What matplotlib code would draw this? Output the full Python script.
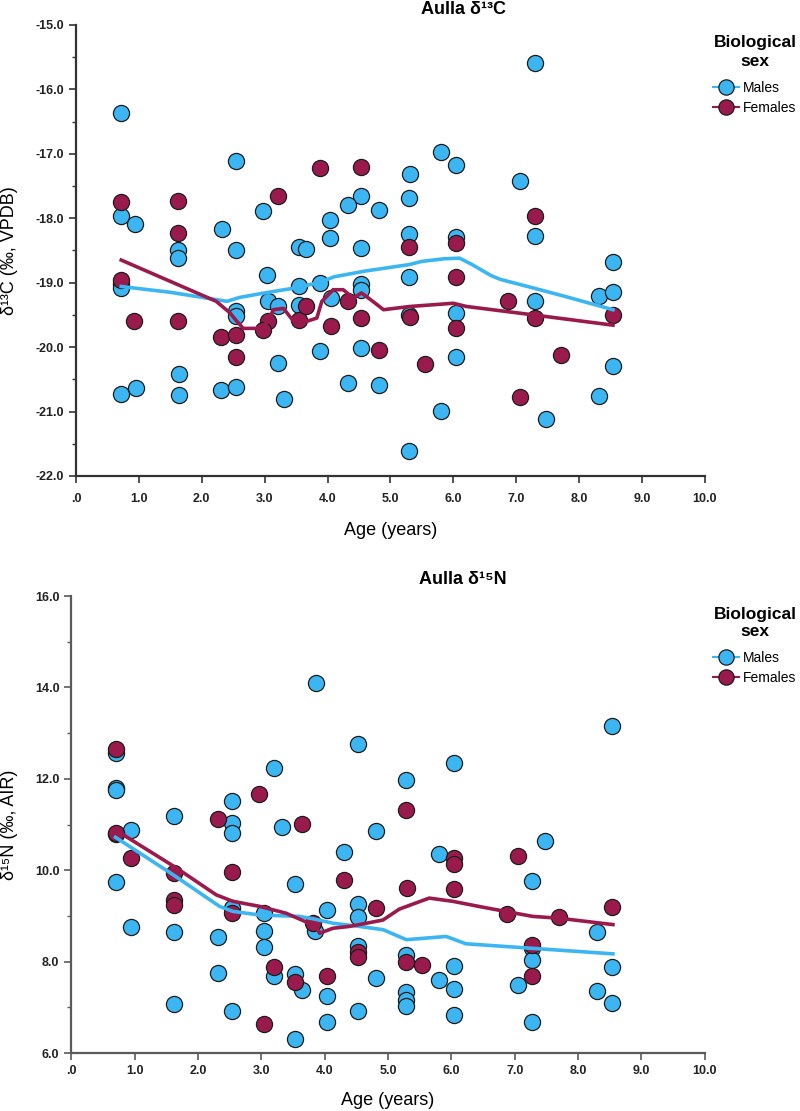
import matplotlib
matplotlib.use('Agg')
import matplotlib.pyplot as plt
from matplotlib.lines import Line2D

plt.rcParams['font.family'] = ['Liberation Sans', 'DejaVu Sans']

# ---- Aulla d13C ----
c_male_age = [0.72, 0.72, 0.94, 1.63, 1.63, 2.54, 2.98, 2.32, 2.54, 3.03,
              4.54, 4.32, 4.82, 4.04, 4.04, 3.55, 3.66, 4.54, 7.30, 5.31,
              5.81, 6.04, 7.06, 5.29, 7.30, 5.29, 6.04, 8.54, 5.29, 0.72,
              0.72, 0.72, 0.95, 1.64, 1.64, 2.31, 2.54, 2.54, 2.54, 3.05,
              3.22, 3.22, 3.31, 3.55, 3.55, 3.88, 3.88, 4.05, 4.32, 4.54,
              4.54, 4.54, 4.82, 8.32, 8.54, 7.30, 6.04, 5.29, 6.04, 8.54,
              8.32, 5.81, 7.48, 5.29]
c_male_val = [-16.37, -17.97, -18.09, -18.49, -18.61, -17.11, -17.89, -18.16, -18.50, -18.88,
              -17.66, -17.80, -17.87, -18.03, -18.31, -18.44, -18.48, -18.47, -15.59, -17.31,
              -16.98, -17.17, -17.43, -17.69, -18.27, -18.25, -18.29, -18.68, -18.92, -19.02,
              -19.08, -20.73, -20.63, -20.42, -20.74, -20.67, -20.62, -19.44, -19.52, -19.28,
              -19.37, -20.24, -20.80, -19.05, -19.34, -19.01, -20.06, -19.24, -20.56, -19.02,
              -19.12, -20.01, -20.59, -19.21, -19.14, -19.29, -19.47, -19.50, -20.15, -20.30,
              -20.76, -20.99, -21.12, -21.61]
c_female_age = [0.72, 1.63, 1.63, 3.21, 3.88, 4.54, 7.30, 6.04, 5.29, 6.04,
                0.72, 0.93, 1.63, 2.31, 2.54, 2.54, 3.05, 2.98, 3.55, 3.66,
                4.05, 4.32, 4.54, 4.82, 6.87, 5.31, 6.04, 7.30, 8.54, 5.55,
                7.71, 7.06]
c_female_val = [-17.75, -17.74, -18.23, -17.66, -17.22, -17.21, -17.97, -18.39, -18.45, -18.92,
                -18.96, -19.59, -19.59, -19.85, -19.81, -20.16, -19.59, -19.73, -19.58, -19.37,
                -19.68, -19.29, -19.55, -20.04, -19.28, -19.53, -19.70, -19.55, -19.50, -20.26,
                -20.12, -20.78]
c_male_fit_age = [0.72, 1.5, 2.4, 2.6, 3.0, 3.5, 3.9, 4.1, 4.6, 5.3, 5.5, 5.85, 6.1,
                  6.3, 6.6, 6.75, 7.3, 7.8, 8.54]
c_male_fit = [-19.06, -19.15, -19.29, -19.23, -19.16, -19.08, -18.99, -18.91, -18.82,
              -18.72, -18.67, -18.63, -18.62, -18.72, -18.89, -18.95, -19.09, -19.22, -19.42]
c_female_fit_age = [0.72, 2.23, 2.45, 2.54, 2.66, 2.87, 3.03, 3.14, 3.30, 3.46, 3.67,
                    3.83, 3.91, 4.09, 4.25, 4.41, 4.54, 4.72, 4.89, 5.31, 6.0, 6.21,
                    7.27, 8.54]
c_female_fit = [-18.65, -19.29, -19.47, -19.58, -19.71, -19.71, -19.63, -19.42, -19.40,
                -19.60, -19.60, -19.55, -19.29, -19.11, -19.11, -19.24, -19.16, -19.29,
                -19.42, -19.37, -19.32, -19.37, -19.50, -19.66]

# ---- Aulla d15N ----
n_male_age = [3.87, 4.53, 0.70, 0.70, 0.70, 3.20, 2.54, 1.62, 2.54, 3.32,
              4.81, 0.95, 8.54, 6.04, 5.29, 0.70, 2.54, 0.70, 0.95, 1.62,
              1.62, 2.31, 2.31, 2.54, 2.54, 3.04, 3.04, 3.04, 3.20, 3.54,
              3.54, 3.64, 3.54, 3.84, 4.04, 4.04, 4.04, 4.30, 4.53, 4.53,
              4.53, 4.53, 4.81, 5.80, 7.48, 7.28, 8.30, 7.28, 7.28, 7.28,
              5.29, 6.04, 5.81, 6.04, 5.29, 5.29, 5.29, 6.04, 7.05, 8.30,
              8.53, 8.53]
n_male_val = [14.10, 12.76, 12.57, 11.79, 11.76, 12.24, 11.52, 11.19, 11.03, 10.94,
              10.85, 10.88, 13.16, 12.34, 11.98, 10.80, 10.81, 9.74, 8.76, 8.65,
              7.08, 8.54, 7.76, 6.91, 9.17, 9.06, 8.67, 8.33, 7.69, 9.70,
              7.73, 7.38, 6.31, 8.66, 9.13, 7.24, 6.68, 10.39, 9.26, 8.97,
              8.35, 6.91, 7.64, 10.35, 10.63, 9.77, 8.65, 8.30, 8.03, 6.68,
              8.15, 7.91, 7.59, 7.40, 7.33, 7.17, 7.02, 6.84, 7.49, 7.35,
              7.89, 7.09]
n_female_age = [0.70, 2.97, 2.31, 3.64, 5.29, 0.70, 0.94, 1.62, 1.62, 1.62,
                2.54, 2.54, 3.04, 3.20, 3.54, 3.82, 4.04, 4.30, 4.53, 4.53,
                4.81, 6.04, 6.04, 7.05, 5.30, 6.04, 8.53, 6.88, 7.70, 7.28,
                7.28, 5.29, 5.54]
n_female_val = [12.65, 11.67, 11.12, 11.01, 11.31, 10.82, 10.26, 9.94, 9.35, 9.24,
                9.97, 9.06, 6.64, 7.89, 7.55, 8.84, 7.69, 9.79, 8.22, 8.11,
                9.17, 10.26, 10.13, 10.31, 9.61, 9.59, 9.19, 9.04, 8.97, 8.37,
                7.68, 8.00, 7.93]
n_male_fit_age = [0.70, 1.61, 2.34, 2.55, 2.97, 3.60, 3.81, 4.13, 4.55, 4.92, 5.29,
                  5.92, 6.23, 8.55]
n_male_fit = [10.72, 9.90, 9.21, 9.10, 9.02, 8.99, 8.94, 8.84, 8.77, 8.70, 8.48,
              8.55, 8.39, 8.17]
n_female_fit_age = [0.70, 1.66, 2.29, 2.55, 2.97, 3.39, 3.87, 3.92, 4.13, 4.39, 4.66,
                    4.92, 5.18, 5.65, 6.02, 6.50, 7.28, 7.70, 8.55]
n_female_fit = [10.88, 10.05, 9.46, 9.32, 9.21, 9.06, 8.77, 8.62, 8.73, 8.77, 8.84,
                8.91, 9.15, 9.39, 9.32, 9.19, 8.99, 8.95, 8.81]

blue = '#3CB6F2'
maroon = '#9B1A4E'
edge = '#1c1c1c'

fig = plt.figure(figsize=(8, 11.11), dpi=100)
ax1 = fig.add_axes([0.095, 0.5716, 0.786, 0.406])
ax2 = fig.add_axes([0.089, 0.0522, 0.792, 0.4113])


def draw(ax, m_age, m_val, f_age, f_val, mf_age, mf, ff_age, ff, spine_col, xpad, lpad):
    ax.scatter(m_age, m_val, s=135, c=blue, edgecolors=edge, linewidths=0.9, zorder=2)
    ax.scatter(f_age, f_val, s=135, c=maroon, edgecolors=edge, linewidths=0.9, zorder=3)
    ax.plot(mf_age, mf, color=blue, lw=2.6, zorder=4)
    ax.plot(ff_age, ff, color=maroon, lw=2.6, zorder=5)
    ax.set_xlim(0, 10)
    ax.set_xticks(range(11))
    ax.set_xticklabels(['.0'] + ['%.1f' % v for v in range(1, 11)])
    for s in ['top', 'right']:
        ax.spines[s].set_visible(False)
    for s in ['left', 'bottom']:
        ax.spines[s].set_color(spine_col)
        ax.spines[s].set_linewidth(1.6)
    ax.tick_params(colors=spine_col, width=1.2, length=5, labelsize=9, labelcolor='#222222')
    ax.tick_params(axis='x', pad=xpad)
    ax.tick_params(which='minor', colors=spine_col, width=1.0, length=3)
    for lab in ax.get_xticklabels() + ax.get_yticklabels():
        lab.set_fontweight('bold')
    ax.set_xlabel('Age (years)', fontsize=13, labelpad=lpad)


draw(ax1, c_male_age, c_male_val, c_female_age, c_female_val,
     c_male_fit_age, c_male_fit, c_female_fit_age, c_female_fit, '#333333', 7, 12.5)
ax1.set_ylim(-22, -15)
ax1.set_yticks([-22, -21, -20, -19, -18, -17, -16, -15])
ax1.set_yticks([-21.5, -20.5, -19.5, -18.5, -17.5, -16.5, -15.5], minor=True)
ax1.set_yticklabels(['%.1f' % v for v in [-22, -21, -20, -19, -18, -17, -16, -15]],
                    fontweight='bold')
ax1.set_ylabel('δ¹³C (‰, VPDB)', fontsize=13)
ax1.yaxis.set_label_coords(-0.092, 0.5)

draw(ax2, n_male_age, n_male_val, n_female_age, n_female_val,
     n_male_fit_age, n_male_fit, n_female_fit_age, n_female_fit, '#5a5a5a', 3.5, 11)
ax2.set_ylim(6, 16)
ax2.set_yticks([6, 8, 10, 12, 14, 16])
ax2.set_yticks([7, 9, 11, 13, 15], minor=True)
ax2.set_yticklabels(['%.1f' % v for v in [6, 8, 10, 12, 14, 16]], fontweight='bold')
ax2.set_ylabel('δ¹⁵N (‰, AIR)', fontsize=13)
ax2.yaxis.set_label_coords(-0.084, 0.5)

fig.text(0.579, 0.991, 'Aulla δ¹³C', ha='center', va='center', fontsize=13, fontweight='bold')
fig.text(0.579, 0.4788, 'Aulla δ¹⁵N', ha='center', va='center', fontsize=13, fontweight='bold')

handles = [Line2D([], [], color=blue, lw=1.5, marker='o', markersize=11,
                  markerfacecolor=blue, markeredgecolor=edge, markeredgewidth=0.9),
           Line2D([], [], color=maroon, lw=1.5, marker='o', markersize=11,
                  markerfacecolor=maroon, markeredgecolor=edge, markeredgewidth=0.9)]
for title_y, ytop in [(52, 81), (623, 651)]:
    fig.text(755 / 800, 1 - title_y / 1111, 'Biological\nsex', ha='center', va='center',
             fontsize=12.5, fontweight='bold', linespacing=1.25)
    fig.legend(handles, ['Males', 'Females'], loc='upper left',
               bbox_to_anchor=(713 / 800, 1 - ytop / 1111), frameon=False,
               fontsize=10, handlelength=1.9, handletextpad=0.25,
               labelspacing=0.4, borderaxespad=0, borderpad=0)

fig.savefig('out.png', dpi=100)
